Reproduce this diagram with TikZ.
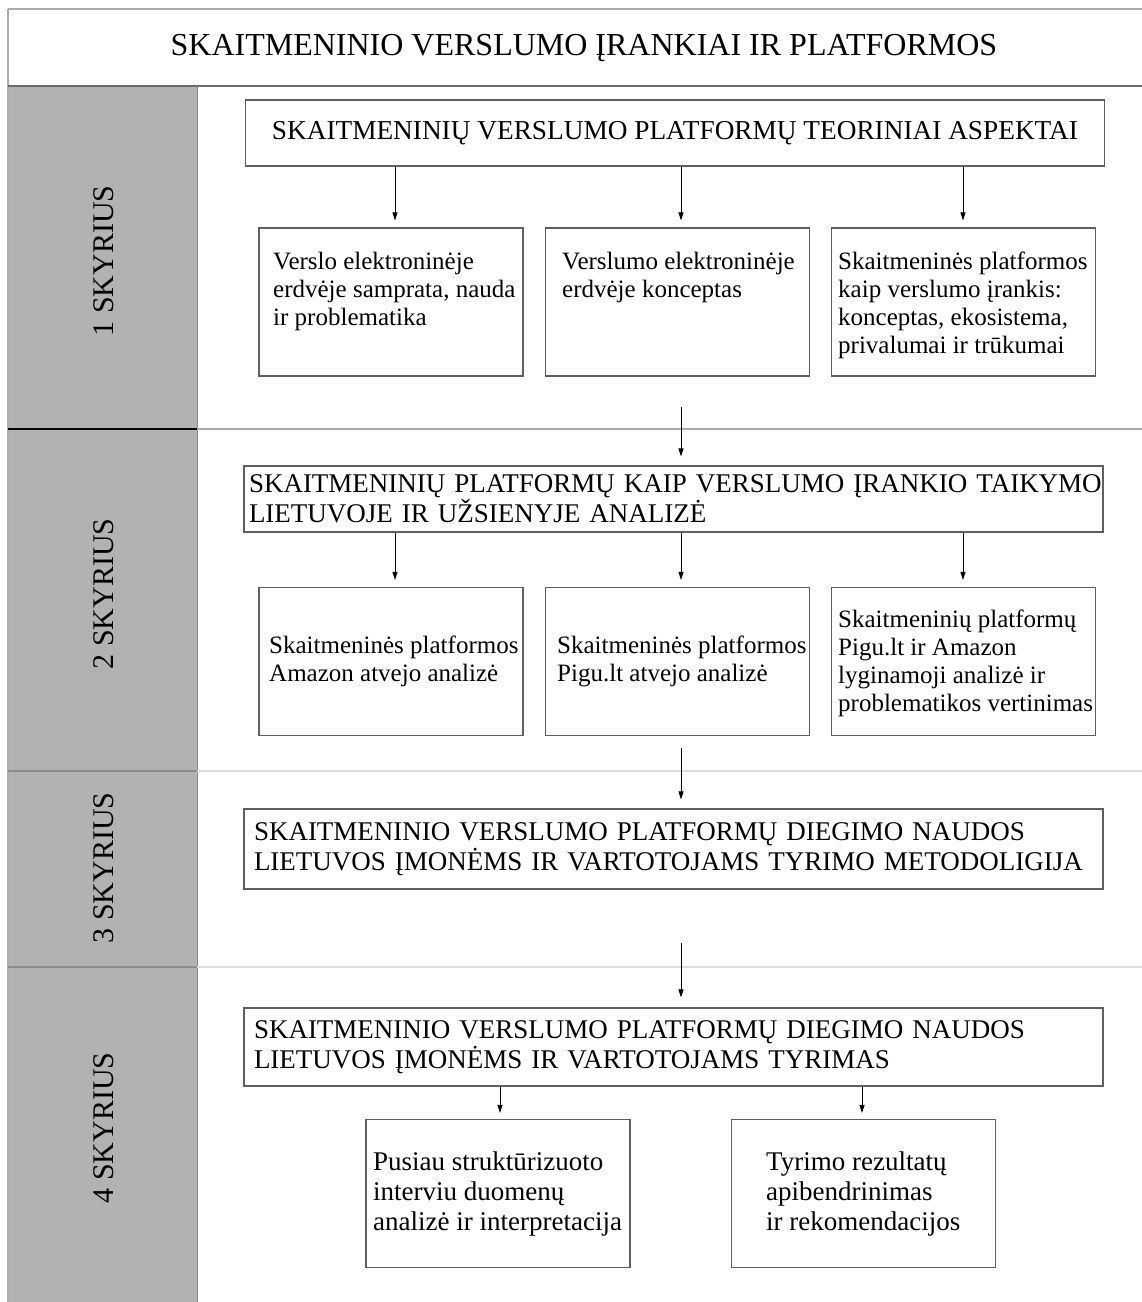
\documentclass[tikz,border=0pt]{standalone}
\usepackage{fontspec}
\setmainfont{Liberation Serif}
\usetikzlibrary{arrows.meta}
\definecolor{colgray}{HTML}{B2B2B2}
\definecolor{boxline}{HTML}{606060}
\definecolor{lineA}{HTML}{ABABAB}
\definecolor{lineB}{HTML}{6A6A6A}
\definecolor{lineC}{HTML}{DCDCDC}
\definecolor{lineD}{HTML}{8C8C8C}
\begin{document}
\begin{tikzpicture}[x=1pt,y=-1pt,
  bigbox/.style={draw=boxline, line width=1.1pt, minimum width=859pt, inner ysep=0pt, font=\fontsize{27}{30}\selectfont},
  smallbox/.style={draw=boxline, line width=1.1pt, minimum width=264pt, minimum height=148pt, inner sep=0pt},
  smalltxt/.style={inner sep=0pt, align=left, font=\fontsize{25}{28}\selectfont},
  bottxt/.style={inner sep=0pt, align=left, font=\fontsize{27}{30}\selectfont},
  vlabel/.style={rotate=90, inner sep=0pt, font=\fontsize{30}{30}\selectfont},
  arr/.style={-{Triangle[length=8pt,width=5pt]}, line width=0.9pt, black}]
\useasboundingbox (0,0) rectangle (1142,1302);
\fill[white] (0,0) rectangle (1142,1302);
% frame and grey column
\fill[colgray] (8,86) rectangle (197,1302);
\draw[lineA, line width=1.5pt] (8,9) -- (1142,9);
\draw[lineA, line width=1.2pt] (8,9) -- (8,1302);
\draw[lineB, line width=1.5pt] (8,86) -- (1142,86);
\draw[lineD, line width=0.8pt] (197,86) -- (197,1302);
\draw[black, line width=1.5pt] (8,429) -- (197,429);
\draw[lineA, line width=1.5pt] (197,429) -- (1142,429);
\draw[lineD, line width=1.2pt] (8,771) -- (197,771);
\draw[lineC, line width=1.5pt] (197,771) -- (1142,771);
\draw[lineD, line width=1.2pt] (8,967) -- (197,967);
\draw[lineC, line width=1.5pt] (197,967) -- (1142,967);
% title
\node[anchor=base, inner sep=0pt, font=\fontsize{32}{34}\selectfont] (T) at (584,55) {SKAITMENINIO VERSLUMO ĮRANKIAI IR PLATFORMOS};
% side labels
\node[vlabel] (L1) at (104,261) {1 SKYRIUS};
\node[vlabel] (L2) at (104,594) {2 SKYRIUS};
\node[vlabel] (L3) at (104,868) {3 SKYRIUS};
\node[vlabel] (L4) at (104,1128) {4 SKYRIUS};
% section 1
\node[bigbox, minimum height=66pt, align=center, font=\fontsize{27.3}{30}\selectfont] (A) at (675,133) {SKAITMENINIŲ VERSLUMO PLATFORMŲ TEORINIAI ASPEKTAI};
\node[smallbox] (b11) at (391,302) {};
\node[smallbox] (b12) at (677.5,302) {};
\node[smallbox] (b13) at (963.5,302) {};
\node[smalltxt, anchor=north west] (t11) at (273,252) {Verslo elektroninėje\\erdvėje samprata, nauda\\ir problematika};
\node[smalltxt, anchor=north west] (t12) at (562,252) {Verslumo elektroninėje\\erdvėje konceptas};
\node[smalltxt, anchor=north west] (t13) at (838,252) {Skaitmeninės platformos\\kaip verslumo įrankis:\\konceptas, ekosistema,\\privalumai ir trūkumai};
% section 2
\node[bigbox, minimum height=66pt, text width=849pt, inner xsep=5pt, align=left] (B) at (673.5,499) {\mbox{SKAITMENINIŲ PLATFORMŲ KAIP VERSLUMO ĮRANKIO TAIKYMO}\\LIETUVOJE IR UŽSIENYJE ANALIZĖ};
\node[smallbox] (b21) at (391,661.5) {};
\node[smallbox] (b22) at (677.5,661.5) {};
\node[smallbox] (b23) at (963.5,661.5) {};
\node[smalltxt, anchor=west] (t21) at (269,661) {Skaitmeninės platformos\\Amazon atvejo analizė};
\node[smalltxt, anchor=west] (t22) at (557,661) {Skaitmeninės platformos\\Pigu.lt atvejo analizė};
\node[smalltxt, anchor=west] (t23) at (838,663) {Skaitmeninių platformų\\Pigu.lt ir Amazon\\lyginamoji analizė ir\\problematikos vertinimas};
% section 3
\node[bigbox, minimum height=80pt, text width=839pt, inner xsep=10pt, align=left] (C) at (673.5,849) {\mbox{SKAITMENINIO VERSLUMO PLATFORMŲ DIEGIMO NAUDOS}\\\mbox{LIETUVOS ĮMONĖMS IR VARTOTOJAMS TYRIMO METODOLIGIJA}};
% section 4
\node[bigbox, minimum height=78pt, text width=839pt, inner xsep=10pt, align=left] (D) at (673.5,1047) {\mbox{SKAITMENINIO VERSLUMO PLATFORMŲ DIEGIMO NAUDOS}\\\mbox{LIETUVOS ĮMONĖMS IR VARTOTOJAMS TYRIMAS}};
\node[smallbox] (b41) at (498,1193.5) {};
\node[smallbox] (b42) at (863.5,1193.5) {};
\node[bottxt, anchor=west] (t41) at (373,1194) {Pusiau struktūrizuoto\\interviu duomenų\\analizė ir interpretacija};
\node[bottxt, anchor=west] (t42) at (766,1194) {Tyrimo rezultatų\\apibendrinimas\\ir rekomendacijos};
% arrow x positions and free starts
\coordinate (xa) at (395,0);
\coordinate (xb) at (681,0);
\coordinate (xc) at (963,0);
\coordinate (xd) at (500,0);
\coordinate (xe) at (862,0);
\coordinate (s12) at (681,407);
\coordinate (s23) at (681,748);
\coordinate (s34) at (681,943);
% arrows
\draw[arr, shorten >=7pt] (xa |- A.south) -- (xa |- b11.north);
\draw[arr, shorten >=7pt] (xb |- A.south) -- (xb |- b12.north);
\draw[arr, shorten >=7pt] (xc |- A.south) -- (xc |- b13.north);
\draw[arr, shorten >=9pt] (s12) -- (s12 |- B.north);
\draw[arr, shorten >=7pt] (xa |- B.south) -- (xa |- b21.north);
\draw[arr, shorten >=7pt] (xb |- B.south) -- (xb |- b22.north);
\draw[arr, shorten >=7pt] (xc |- B.south) -- (xc |- b23.north);
\draw[arr, shorten >=9pt] (s23) -- (s23 |- C.north);
\draw[arr, shorten >=10pt] (s34) -- (s34 |- D.north);
\draw[arr, shorten >=6pt] (xd |- D.south) -- (xd |- b41.north);
\draw[arr, shorten >=6pt] (xe |- D.south) -- (xe |- b42.north);
\end{tikzpicture}
\end{document}
